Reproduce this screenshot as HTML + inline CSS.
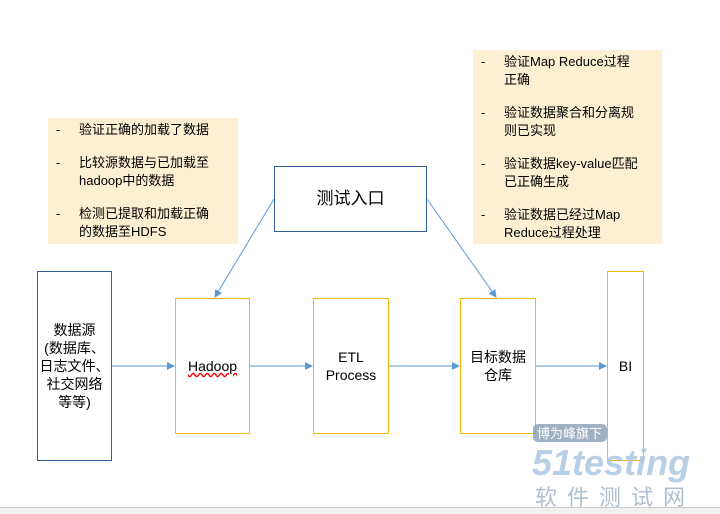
<!DOCTYPE html>
<html><head><meta charset="utf-8"><style>
body{margin:0;width:720px;height:513px;background:#fff;position:relative;overflow:hidden;font-family:"Liberation Sans","Noto Sans CJK SC",sans-serif;color:#000}
.b{position:absolute;box-sizing:border-box;background:#fff}
.note{position:absolute;background:#fdf0d2;font-size:13px;line-height:18px;box-sizing:border-box}
.note .i{position:relative;padding-left:31px;margin-bottom:15px;width:134px}
.note .i:before{content:"-";position:absolute;left:8px}
.c{display:flex;align-items:center;justify-content:center;text-align:center;font-size:14px;line-height:18px}
</style></head><body>
<div class="note" style="left:48px;top:118px;width:190px;height:126px;padding-top:3px">
<div class="i">验证正确的加载了数据</div>
<div class="i">比较源数据与已加载至hadoop中的数据</div>
<div class="i">检测已提取和加载正确的数据至HDFS</div>
</div>
<div class="note" style="left:473px;top:50px;width:189px;height:194px;padding-top:3px">
<div class="i">验证Map Reduce过程正确</div>
<div class="i">验证数据聚合和分离规则已实现</div>
<div class="i">验证数据key-value匹配已正确生成</div>
<div class="i">验证数据已经过Map Reduce过程处理</div>
</div>
<div class="b c" style="left:274px;top:166px;width:153px;height:66px;border:1px solid #2e5f9a;font-size:17px">测试入口</div>
<div class="b c" style="left:37px;top:271px;width:75px;height:190px;border:1px solid #2e5f9a">数据源<br>(数据库、<br>日志文件、<br>社交网络<br>等等)</div>
<div class="b c" style="left:175px;top:298px;width:75px;height:136px;border:1px solid #f5b800"><span style="text-decoration:underline wavy red">Hadoop</span></div>
<div class="b c" style="left:313px;top:298px;width:76px;height:136px;border:1px solid #f5b800">ETL<br>Process</div>
<div class="b c" style="left:460px;top:298px;width:76px;height:136px;border:1px solid #f5b800">目标数据<br>仓库</div>
<div class="b c" style="left:607px;top:271px;width:37px;height:190px;border:1px solid #f5b800">BI</div>
<svg style="position:absolute;left:0;top:0" width="720" height="513">
<defs><marker id="a" markerWidth="8" markerHeight="8" refX="7" refY="4" orient="auto" markerUnits="userSpaceOnUse"><path d="M0,0L8,4L0,8z" fill="#5b9bd5"/></marker></defs>
<g stroke="#5b9bd5" stroke-width="1" marker-end="url(#a)">
<line x1="112" y1="366" x2="174" y2="366"/>
<line x1="250" y1="366" x2="312" y2="366"/>
<line x1="389" y1="366" x2="459" y2="366"/>
<line x1="536" y1="366" x2="606" y2="366"/>
<line x1="274" y1="199" x2="215" y2="297"/>
<line x1="427" y1="199" x2="496" y2="297"/>
</g>
<rect x="533" y="424" width="74" height="18" rx="5" fill="#8fa3b8" opacity="0.85"/>
<text x="537" y="438" font-size="13" fill="#fff" font-family="Noto Sans CJK SC">博为峰旗下</text>
<text x="532" y="475" font-size="36" font-weight="bold" font-style="italic" fill="#a8c4e0" opacity="0.8" font-family="Liberation Sans">51testing</text>
<text x="535" y="505" font-size="22" fill="#b0c0d0" letter-spacing="10" font-family="Noto Sans CJK SC">软件测试网</text>
</svg>
<div style="position:absolute;left:0;top:507px;width:720px;height:6px;background:#f0f0f0;border-top:1px solid #ccc"></div>
</body></html>
